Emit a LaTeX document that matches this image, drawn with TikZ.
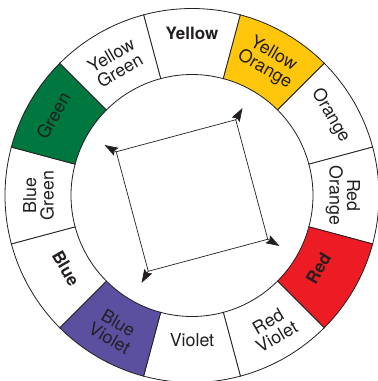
\documentclass[tikz,border=0pt]{standalone}
\usepackage{fontspec}
\setmainfont{TeX Gyre Heros}
\usetikzlibrary{arrows.meta}
\definecolor{ink}{HTML}{231F20}
\definecolor{yelor}{HTML}{FFC60B}
\definecolor{greenc}{HTML}{00773E}
\definecolor{redc}{HTML}{ED1C24}
\definecolor{bviol}{HTML}{5B50A0}
\begin{document}
\begin{tikzpicture}[x=1pt,y=1pt,
  lab/.style={text=ink, align=center, inner sep=0pt, font=\fontsize{17.8}{17.5}\selectfont},
  blab/.style={text=ink, align=center, inner sep=0pt, font=\fontsize{17}{17.5}\selectfont\bfseries},
  ring/.style={draw=ink, line width=0.8pt},
  sqline/.style={draw=ink, line width=0.7pt},
  tipline/.style={draw=ink, line width=0.7pt, -{Stealth[length=13.5pt,width=9pt,inset=2pt]}}]
\useasboundingbox (-192,-185.5) rectangle (186,195.5);
\clip (-192,-185.5) rectangle (186,195.5);
\fill[white] (-192,-185.5) rectangle (186,195.5);
% wheel segments
\foreach \a/\c in {90/white,60/yelor,30/white,0/white,-30/redc,-60/white,-90/white,-120/bviol,-150/white,180/white,150/greenc,120/white} {
  \filldraw[ring, fill=\c] (\a-15:121pt) arc[start angle=\a-15, end angle=\a+15, radius=121pt]
    -- (\a+15:187pt) arc[start angle=\a+15, end angle=\a-15, radius=187pt] -- cycle;
}
% labels
\node[blab] (lyellow) at (90:162.5pt) {Yellow};
\node[lab, rotate=-30] (lyo) at (60:154pt) {Yellow\\Orange};
\node[lab, rotate=-60] (lor) at (30:160pt) {Orange};
\node[lab, rotate=-90] (lro) at (0:151pt) {Red\\Orange};
\node[blab, rotate=60] (lred) at (-30:146pt) {Red};
\node[lab, rotate=30] (lrv) at (-59:156pt) {Red\\Violet};
\node[lab] (lviolet) at (-90:144.5pt) {Violet};
\node[lab, rotate=-30] (lbv) at (-120:156pt) {Blue\\Violet};
\node[blab, rotate=-60] (lblue) at (-150:145.5pt) {Blue};
\node[lab, rotate=90] (lbg) at (180:153.5pt) {Blue\\Green};
\node[lab, rotate=60] (lgreen) at (150:160pt) {Green};
\node[lab, rotate=30] (lyg) at (120:153pt) {Yellow\\Green};
% inner square with arrowheads
\coordinate (q1) at (150:87.5pt);
\coordinate (q2) at (60:87.5pt);
\coordinate (q3) at (-30:87.5pt);
\coordinate (q4) at (-120:87.5pt);
\coordinate (t1) at (150:101pt);
\coordinate (t2) at (60:101pt);
\coordinate (t3) at (-30:101pt);
\coordinate (t4) at (-120:101pt);
\draw[sqline] (q1) -- (q2) -- (q3) -- (q4) -- cycle;
\draw[tipline] (q1) -- (t1);
\draw[tipline] (q2) -- (t2);
\draw[tipline] (q3) -- (t3);
\draw[tipline] (q4) -- (t4);
\end{tikzpicture}
\end{document}
